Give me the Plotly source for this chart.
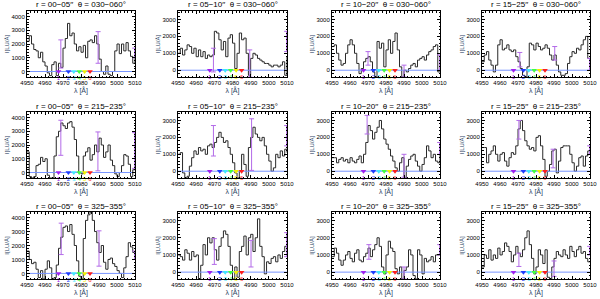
import plotly.graph_objects as go

# ---------------- data ----------------
radii = ["00−05", "05−10", "10−20", "15−25"]
angles = ["030−060", "215−235", "325−355"]

wl_start = 4950.0
wl_step = 1.25
n_bins = 49

# spectra (row, col): flux per 1.25 Å bin starting at 4950 Å
spec_1_1 = [2200, 2600, 2000, 1600, 1500, 1000, 1400, 700, 400, -100, -300, 500, 700, -300, 600, 300,
            1700, 2400, 3500, 2600, 2800, 2000, 1500, 1800, 1400, 1900, 1000, 2200, 2300, 2100, 2600, 2000,
            900, 0, -200, 400, -200, -300, 0, 1500, 2000, 1300, 2000, 1500, 2100, 1500, 1100, 600, 1500]
spec_1_2 = [1000, 1300, 900, 1200, 1500, 1400, 1000, 1300, 800, 1200, 800, 1100, 700, 900, 800, 900,
            2300, 2200, 1800, 1200, 1700, 800, 1900, 2100, 1600, 100, 1000, 2200, 1800, 1900, 1000, -300,
            700, 1000, 900, 700, 600, 500, 400, 400, 300, 200, 300, 300, 200, 300, 500, -300, 800]
spec_1_3 = [1400, 1500, 1000, 600, 300, 400, 1000, 1500, 1800, 1500, 1000, 400, -200, 100, 500, 700,
            800, 500, -100, -400, 1700, 1300, 1600, 200, 1200, 1800, 1000, 1700, 2200, 1200, 200, -400,
            0, -100, 100, 300, 400, 200, 600, 700, 800, 600, 900, 1100, 1200, 1400, 1500, -100, -100]
spec_1_4 = [500, 900, 1100, 600, 300, -100, 300, 1500, 1800, 1200, 1300, 1500, 1200, 1100, 1200, 800,
            500, 100, -300, -400, 200, 1600, 1500, 1200, 1600, 1400, 1200, 1300, 1500, 1300, 900, 600,
            900, 300, -100, -300, -300, -200, 400, 800, 1100, 1000, 1300, 1200, 1500, 1800, 2000, 700, 0]
spec_2_1 = [1500, -300, -400, -300, 500, 600, 1100, 800, 1000, -200, -400, -400, 1200, 2600, 3000, 3600,
            3400, 3200, 3600, 3700, 3300, 2400, 1200, 0, -100, 1200, 1500, 1800, 900, 1300, 2000, 1500,
            2500, 2000, 1100, 1500, 2000, 900, 500, -100, -300, 0, 500, 1300, 1200, 600, -300, 200, 500]
spec_2_2 = [1000, 1100, -100, -400, -300, 300, 800, 1200, 1000, 1400, 1200, 1300, 1000, 1500, 1600, 1400,
            1700, 2000, 2300, 2000, 1700, 1800, 1400, 1000, 500, -100, -400, 0, 1000, 400, -300, 1400,
            2000, 2600, 2200, 2000, 1800, 2000, 1500, 1000, 600, 0, 200, 1000, 800, 1200, 900, 1300, 1100]
spec_2_3 = [800, 800, 500, 700, 800, 600, 700, 500, 800, 600, 500, 700, 900, 500, 1000, 1700,
            2700, 2400, 1900, 2300, 2600, 3000, 2500, 1900, 1600, 1300, 900, 600, 200, 0, 500, 800,
            -400, 300, 700, 900, 1000, 600, 300, 0, 400, 800, 1500, 1200, 800, 1000, 600, 500, 1000]
spec_2_4 = [1400, 1400, 500, 1000, 1200, 1500, 1000, 600, 1000, 1100, 600, 300, 800, 1100, 1000, 1500,
            2500, 3000, 2400, 1800, 1500, 1300, 1400, 1200, 2000, 2100, 1500, 700, -300, 0, 400, 1200,
            1300, -100, 600, 1400, 1500, 1500, 1500, 1000, 500, 0, 300, 800, 900, 300, 900, 1200, 1200]
spec_3_1 = [1600, 1000, 700, 800, 300, -300, 200, -400, 300, 900, 400, -400, -300, 600, 1800, 2600,
            3300, 3400, 3000, 3500, 2800, 2000, 900, -200, -400, 2500, 3800, 4200, 4400, 3800, 3000, 2200,
            1500, 2000, 800, 300, 1000, 1100, 700, 500, 200, 0, -300, 400, 1200, 2200, 1900, 1500, 1000]
spec_3_2 = [1000, 900, 700, 1300, 1100, 700, 1200, 900, 1000, -400, 400, 1600, 1000, 2000, 1700, 2000,
            1300, 700, 1500, 2000, 2400, 2200, 1500, 400, -400, 300, -300, 1200, 1500, 2100, 1000, 2000,
            2200, 1200, 2000, 3100, 1500, 900, -100, 600, 500, 800, 900, 600, 1000, 800, 1200, 1500, 1600]
spec_3_3 = [900, 1400, 1100, 700, 400, 700, 1000, 1200, 800, 600, 1100, 1300, 700, 600, 900, 1100,
            1400, 900, 1300, 1600, 2000, 1500, 300, -100, 1000, 1800, 1400, 1200, 200, -100, 300, -400,
            100, 300, 1300, 1000, -200, -400, 1300, 1000, -100, 800, 600, 700, 900, 600, 1000, 1000, 1000]
spec_3_4 = [300, 1000, 800, 1300, 700, 1000, 800, 1400, 1000, 1200, 1700, 1500, 1200, 600, 1000, 1500,
            1100, 900, 1300, 2000, 2400, 1600, 800, -100, 300, 1300, 1000, 500, 1300, -300, -400, 300,
            800, 1200, 1000, 900, 1300, 1000, 800, 1500, 1200, 900, 1300, 1500, 1100, 1200, 800, 600, 600]

# error bars per panel: x, low, high
err_1_1 = ([4968.8, 4989.5, 5009.8], [250, 600, 1000], [2300, 2900, 1700])
err_1_2 = ([4969.5, 4989.5, 5009.8], [-100, -400, 1100], [1300, 1200, 2300])
err_1_3 = ([4970.0, 4990.0, 5009.8], [300, -400, 0], [1100, 300, 900])
err_1_4 = ([4971.0, 4990.4, 5009.8], [200, 600, 0], [1050, 1400, 700])
err_2_1 = ([4968.8, 4989.4, 5009.8], [1250, 120, 300], [3800, 2950, 2900])
err_2_2 = ([4969.5, 4990.5, 5009.8], [900, 50, 1500], [2700, 3100, 2700])
err_2_3 = ([4969.5, 4990.0, 5009.8], [2200, -350, 1000], [3300, 1000, 1700])
err_2_4 = ([4970.5, 4989.5, 5009.8], [1900, 200, 1000], [3000, 1300, 1500])
err_3_1 = ([4969.0, 4990.0, 5009.8], [1350, 520, 1000], [3600, 3050, 1600])
err_3_2 = ([4970.0, 4990.2, 5009.8], [450, 300, 900], [1950, 1850, 2300])
err_3_3 = ([4970.5, 4990.0, 5009.8], [750, -400, 1000], [1600, 300, 1600])
err_3_4 = ([4970.5, 4990.0, 5009.8], [330, -250, 1000], [1100, 650, 1500])

line_wl = [4967.5, 4973.0, 4976.0, 4979.0, 4982.0, 4985.0]
line_labels = ["1", "2", "3", "4", "5", "6"]
line_colors = ["#a020f0", "#1e3cff", "#40e8ff", "#40ff40", "#f0f000", "#ff1e1e"]

x_ticks = [4950, 4960, 4970, 4980, 4990, 5000, 5010]
y_ticks_col1 = [0, 1000, 2000, 3000, 4000]
y_ticks_other = [0, 1000, 2000, 3000]

specs = [[spec_1_1, spec_1_2, spec_1_3, spec_1_4],
         [spec_2_1, spec_2_2, spec_2_3, spec_2_4],
         [spec_3_1, spec_3_2, spec_3_3, spec_3_4]]
errs = [[err_1_1, err_1_2, err_1_3, err_1_4],
        [err_2_1, err_2_2, err_2_3, err_2_4],
        [err_3_1, err_3_2, err_3_3, err_3_4]]

# ---------------- layout geometry (pixels) ----------------
W, H = 600, 299
col_px = [(27, 135), (178, 287), (332, 440), (482, 590)]
row_px = [(11, 77), (112, 178), (212, 279)]

wl = [wl_start + wl_step * i for i in range(n_bins)]

fig = go.Figure()
FONT = "Liberation Sans, Arial, sans-serif"
purple = "#b36be8"

annotations = []
k = 0
for r in range(3):
    for c in range(4):
        k += 1
        xa = "x" if k == 1 else f"x{k}"
        ya = "y" if k == 1 else f"y{k}"
        spec = specs[r][c]
        fig.add_trace(go.Scatter(x=wl, y=spec, mode="lines", line=dict(color="#2a2a2a", width=1, shape="hv"),
                                 xaxis=xa, yaxis=ya, showlegend=False, hoverinfo="skip"))
        fig.add_trace(go.Scatter(x=[x_ticks[0], x_ticks[-1]], y=[0, 0], mode="lines",
                                 line=dict(color="#7895ff", width=1), xaxis=xa, yaxis=ya,
                                 showlegend=False, hoverinfo="skip"))
        ex, elo, ehi = errs[r][c]
        mid = [(a + b) / 2 for a, b in zip(elo, ehi)]
        fig.add_trace(go.Scatter(x=ex, y=mid, mode="markers", marker=dict(size=1, color="rgba(0,0,0,0)"),
                                 error_y=dict(type="data", symmetric=False,
                                              array=[h - m for h, m in zip(ehi, mid)],
                                              arrayminus=[m - l for l, m in zip(elo, mid)],
                                              color=purple, thickness=1, width=2.5),
                                 xaxis=xa, yaxis=ya, showlegend=False, hoverinfo="skip"))
        fig.add_trace(go.Scatter(x=line_wl, y=[0] * 6, mode="markers+text", text=line_labels,
                                 textposition="bottom center",
                                 textfont=dict(size=6, color=line_colors, family=FONT),
                                 marker=dict(symbol="triangle-down", size=5, color=line_colors),
                                 xaxis=xa, yaxis=ya, showlegend=False, hoverinfo="skip", cliponaxis=False))
        x0, x1 = col_px[c]
        y0, y1 = row_px[r]
        yr = [-400, 4400] if c == 0 else [-400, 3500]
        yt = y_ticks_col1 if c == 0 else y_ticks_other
        axis_common = dict(showline=True, linecolor="black", linewidth=1, mirror="ticks",
                           ticks="inside", ticklen=3, tickcolor="black", showgrid=False, zeroline=False,
                           tickangle=0, automargin=False,
                           tickfont=dict(size=6, family=FONT, color="black"))
        fig.layout[("xaxis" if k == 1 else f"xaxis{k}")] = dict(
            domain=[x0 / W, x1 / W], range=[4950, 5010], anchor=ya, tickvals=x_ticks,
            minor=dict(ticks="inside", ticklen=1.5, dtick=2, tick0=4950, tickcolor="black"),
            title=dict(text="λ [Å]", font=dict(size=7, family=FONT), standoff=1), **axis_common)
        fig.layout[("yaxis" if k == 1 else f"yaxis{k}")] = dict(
            domain=[1 - y1 / H, 1 - y0 / H], range=yr, anchor=xa, tickvals=yt,
            minor=dict(ticks="inside", ticklen=1.5, dtick=200, tick0=0, tickcolor="black"),
            title=dict(text="I[LU/Å]", font=dict(size=6, family=FONT), standoff=1), **axis_common)
        annotations.append(dict(text=f"r = {radii[c]}′′  θ = {angles[r]}°", x=(x0 + x1) / 2 / W,
                                y=1 - (y0 - 6) / H, xref="paper", yref="paper", showarrow=False,
                                xanchor="center", yanchor="middle",
                                font=dict(size=8, family=FONT, color="black")))

fig.update_layout(width=W, height=H, margin=dict(l=0, r=0, t=0, b=0), paper_bgcolor="white",
                  plot_bgcolor="white", annotations=annotations)
fig.write_html("out.html", config={"displayModeBar": False, "staticPlot": True},
               post_script="document.body.style.margin='0';document.body.style.overflow='hidden';")
